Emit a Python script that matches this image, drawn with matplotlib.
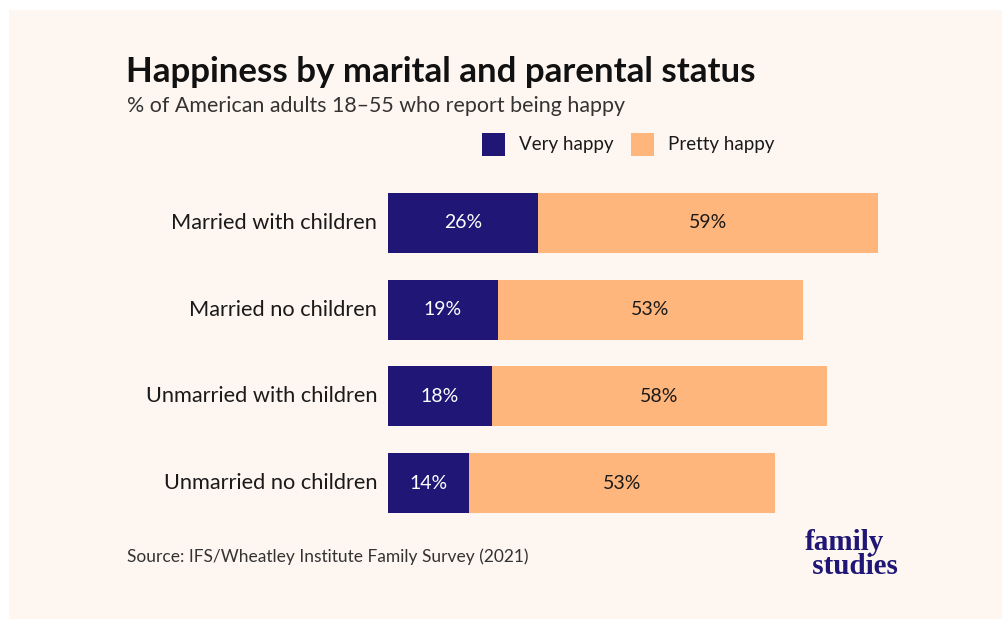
import matplotlib.pyplot as plt
from matplotlib.patches import Rectangle

# data
categories = ["Married with children", "Married no children",
              "Unmarried with children", "Unmarried no children"]
very_happy = [26, 19, 18, 14]
pretty_happy = [59, 53, 58, 53]
series_names = ["Very happy", "Pretty happy"]

NAVY = "#1F1675"
PEACH = "#FFB67C"
BG = "#FEF6F1"
TEXT = "#1a1a1a"

plt.rcParams['font.family'] = ['Lato', 'DejaVu Sans']

W, H = 1002, 619
fig = plt.figure(figsize=(W / 100, H / 100), dpi=100)
fig.patch.set_facecolor("white")

# peach panel (white strip along top and left)
fig.add_artist(Rectangle((9 / W, 0), 1, 1 - 10 / H, transform=fig.transFigure,
                         facecolor=BG, edgecolor="none", zorder=0))


def fx(px):
    return px / W


def fy(py):
    return 1 - py / H


# axes: x=0 at pixel 388, 100% = 577 px; rows centred at 223..483 px
ax = fig.add_axes([fx(388), fy(526.5), 577 / W, (526.5 - 179.5) / H])
ax.set_facecolor("none")
ypos = list(range(len(categories)))
ax.barh(ypos, very_happy, height=0.69, color=NAVY, label=series_names[0])
ax.barh(ypos, pretty_happy, left=very_happy, height=0.69, color=PEACH,
        label=series_names[1])
ax.set_xlim(0, 100)
ax.set_ylim(3.5, -0.5)

for i in ypos:
    ax.text(very_happy[i] / 2, i, f"{very_happy[i]}%", ha="center", va="center",
            color="white", fontsize=14)
    ax.text(very_happy[i] + pretty_happy[i] / 2, i, f"{pretty_happy[i]}%",
            ha="center", va="center", color=TEXT, fontsize=14)
    ax.text(-1.9, i, categories[i], ha="right", va="center", color=TEXT,
            fontsize=15.7)

ax.set_xticks([])
ax.set_yticks([])
for s in ax.spines.values():
    s.set_visible(False)

# title and subtitle
fig.text(fx(126), fy(72), "Happiness by marital and parental status",
         fontsize=25.1, fontweight="bold", color="#111111", va="center")
fig.text(fx(127), fy(106), "% of American adults 18\u201355 who report being happy",
         fontsize=15.4, color="#333333", va="center")

# legend drawn by hand
for x0, name, col in [(482, series_names[0], NAVY), (631, series_names[1], PEACH)]:
    fig.add_artist(Rectangle((fx(x0), fy(156)), 23 / W, 23 / H,
                             transform=fig.transFigure, facecolor=col,
                             edgecolor="none"))
    fig.text(fx(x0 + 37), fy(145), name, fontsize=13.5, color=TEXT, va="center")

# source
fig.text(fx(127), fy(557), "Source: IFS/Wheatley Institute Family Survey (2021)",
         fontsize=12.5, color="#333333", va="center")

# logo, one text block so the two lines sit tight
fig.text(fx(805), fy(574), "family\n studies", fontsize=21, fontweight="bold",
         family="Liberation Serif", color=NAVY, va="baseline",
         linespacing=0.85)

fig.savefig("out.png", dpi=100, facecolor=fig.get_facecolor())
